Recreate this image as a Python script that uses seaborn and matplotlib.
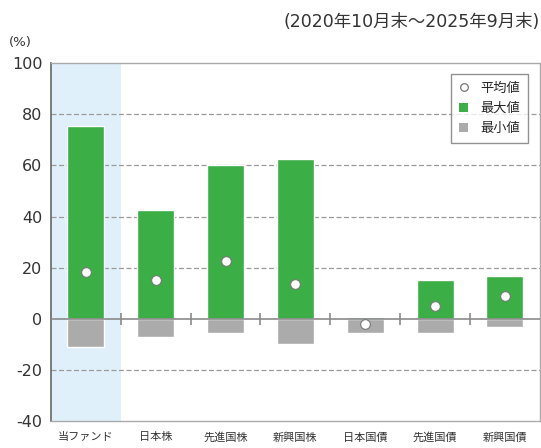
import matplotlib
matplotlib.use('Agg')
import matplotlib.pyplot as plt
import seaborn as sns
import numpy as np
import pandas as pd
from matplotlib.lines import Line2D
from matplotlib.patches import Patch

categories = ['当ファンド', '日本株', '先進国株', '新興国株', '日本国債', '先進国債', '新興国債']
max_vals = [75.3, 42.6, 60.2, 62.5, 0.8, 15.0, 16.8]
min_vals = [-11.0, -7.0, -5.6, -10.0, -5.6, -5.6, -3.2]
mean_vals = [18.2, 15.0, 22.8, 13.6, -2.2, 5.0, 9.0]

green = '#3bae46'
gray = '#ababab'

sns.set_style('white')
plt.rcParams['font.family'] = ['Noto Sans CJK JP', 'DejaVu Sans']

df = pd.DataFrame({'cat': categories, 'max': max_vals, 'min': min_vals, 'mean': mean_vals})

fig = plt.figure(figsize=(5.41, 4.48), dpi=100)
ax = fig.add_axes([0.094, 0.06, 0.904, 0.799])

# 当ファンドの背景
ax.axvspan(-0.5, 0.5, color='#e0f0fb', zorder=0, lw=0)

sns.barplot(data=df, x='cat', y='max', color=green, width=0.53, saturation=1, ax=ax, zorder=2)
sns.barplot(data=df, x='cat', y='min', color=gray, width=0.53, saturation=1, ax=ax, zorder=2)
sns.stripplot(data=df, x='cat', y='mean', jitter=False, color='white', size=7,
              edgecolor='#777777', linewidth=0.8, ax=ax, zorder=4)

ax.set_ylim(-40, 100)
ax.set_xlim(-0.5, len(categories) - 0.5)
ax.set_yticks([-40, -20, 0, 20, 40, 60, 80, 100])
ax.set_yticklabels(['-40', '-20', '0', '20', '40', '60', '80', '100'],
                   family=['DejaVu Sans'])

# 破線のグリッド
for y in [-20, 20, 40, 60, 80]:
    ax.axhline(y, color='#9a9a9a', lw=0.9, ls=(0, (4, 2)), zorder=1)
ax.axhline(0, color='#8a8a8a', lw=1.2, zorder=3)
bounds = np.arange(len(categories) - 1) + 0.5
ax.plot(bounds, np.zeros(len(bounds)), ls='none', marker='|', ms=8, mew=1.2,
        color='#8a8a8a', zorder=3)

ax.set_xlabel('')
ax.set_ylabel('')
ax.tick_params(axis='y', labelsize=11.5, length=4, color='#777777', labelcolor='#333333', pad=2)
ax.tick_params(axis='x', labelsize=8, length=0, labelcolor='#333333', pad=8)
for s in ['top', 'right', 'bottom']:
    ax.spines[s].set_color('#aaaaaa')
    ax.spines[s].set_linewidth(1.0)
ax.spines['left'].set_color('#666666')
ax.spines['left'].set_linewidth(1.2)

handles = [
    Line2D([], [], marker='o', ls='none', markerfacecolor='white', markeredgecolor='#777777',
           markersize=5.5, markeredgewidth=0.9),
    Patch(facecolor=green, edgecolor='none'),
    Patch(facecolor=gray, edgecolor='none'),
]
leg = ax.legend(handles, ['平均値', '最大値', '最小値'], loc='upper right',
                bbox_to_anchor=(0.975, 0.97), fontsize=9.5, frameon=True, fancybox=False,
                handlelength=0.7, handleheight=0.7, handletextpad=0.9, borderpad=0.6,
                labelspacing=0.55, borderaxespad=0)
leg.get_frame().set_edgecolor('#777777')
leg.get_frame().set_linewidth(1.0)
leg.set_zorder(5)

fig.text(0.998, 0.951, '(2020年10月末～2025年9月末)', ha='right', va='center', fontsize=12.5,
         color='#333333', family=['DejaVu Sans', 'Noto Sans CJK JP'])
fig.text(0.037, 0.906, '(%)', ha='center', va='center', fontsize=9.5, color='#333333',
         family=['DejaVu Sans'])

fig.savefig('out.png', dpi=100)
